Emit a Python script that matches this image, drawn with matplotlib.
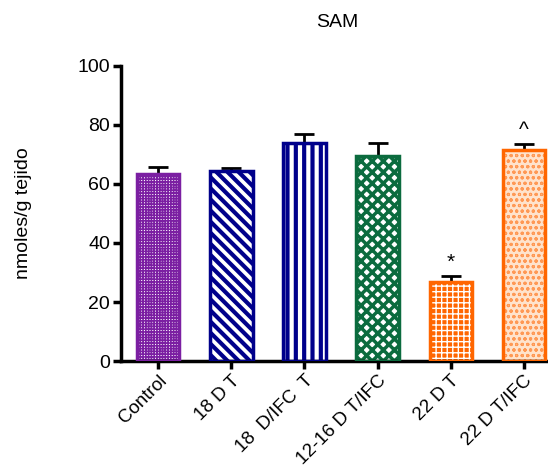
import matplotlib.pyplot as plt
import numpy as np

plt.rcParams['font.family'] = ['Liberation Sans', 'DejaVu Sans']

groups = ["Control", "18 D T", "18  D/IFC  T", "12-16 D T/IFC", "22 D T", "22 D T/IFC"]
means = [63.4, 64.5, 73.8, 69.6, 26.7, 71.5]
sem = [2.4, 1.0, 3.0, 4.2, 2.1, 2.0]
marks = ["", "", "", "", "*", "^"]

edge_colors = ["#7B1FA2", "#00008B", "#00008B", "#0B6B3E", "#FF6600", "#FF6600"]
face_colors = ["white", "white", "white", "white", "#FF6600", "#FFE3CC"]
hatch_colors = ["#7B1FA2", "#00008B", "#00008B", "#0B6B3E", "white", "#FF9955"]
hatches = ["++++++", "\\\\\\", "||", "xxx", "+++", "ooo"]
hatch_widths = [1.2, 3.0, 3.0, 2.5, 1.0, 0.8]

fig = plt.figure(figsize=(5.48, 4.71), dpi=100)
ax = fig.add_axes([0.221, 0.2335, 0.779, 0.6265])

x = np.arange(len(groups))
w = 0.58
for i in range(len(groups)):
    with plt.rc_context({"hatch.linewidth": hatch_widths[i]}):
        ax.bar(x[i], means[i], width=w, color=face_colors[i],
               edgecolor=hatch_colors[i], hatch=hatches[i], linewidth=0, zorder=2)
    ax.bar(x[i], means[i], width=w, facecolor="none",
           edgecolor=edge_colors[i], linewidth=2.5, zorder=3)

ax.errorbar(x, means, yerr=[np.zeros(len(sem)), sem], fmt="none", ecolor="black",
            elinewidth=2, capsize=7, capthick=2, zorder=1)

for i, m in enumerate(marks):
    if m:
        ax.text(x[i], means[i] + sem[i] + 1.5, m, ha="center", va="bottom", fontsize=15)

ax.set_xlim(-0.507, 5.33)
ax.set_ylim(0, 100)
ax.set_yticks([0, 20, 40, 60, 80, 100])
ax.set_xticks(x)
ax.set_xticklabels(groups, rotation=45, ha="right", rotation_mode="anchor", fontsize=13.5)
ax.tick_params(axis="y", labelsize=14, width=2.5, length=6, pad=2)
ax.tick_params(axis="x", width=2.5, length=6, pad=2)
for s in ["top", "right"]:
    ax.spines[s].set_visible(False)
for s in ["left", "bottom"]:
    ax.spines[s].set_linewidth(2.5)

ax.set_ylabel("nmoles/g tejido", fontsize=14, labelpad=33)
fig.text(0.615, 0.953, "SAM", ha="center", va="center", fontsize=14)

fig.savefig("out.png", dpi=100)
